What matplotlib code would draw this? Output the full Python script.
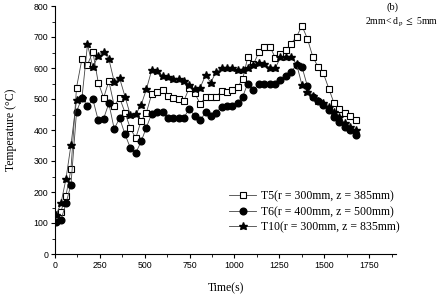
import matplotlib
matplotlib.use("Agg")
import matplotlib.pyplot as plt
from matplotlib.ticker import MultipleLocator

time_s = [6, 33, 61, 89, 120, 150, 181, 211, 241, 271, 300, 330, 360, 390, 420, 450,
          480, 509, 539, 569, 600, 630, 659, 689, 718, 748, 778, 809, 839, 868, 898,
          928, 958, 987, 1017, 1046, 1074, 1106, 1137, 1166, 1198, 1227, 1256, 1287,
          1316, 1346, 1376, 1406, 1436, 1465, 1494, 1526, 1555, 1584, 1614, 1644, 1677]

t5 = [118, 137, 188, 274, 537, 629, 611, 652, 553, 504, 558, 478, 504, 456, 405, 374,
      430, 456, 516, 523, 530, 511, 504, 499, 494, 536, 520, 484, 506, 505, 506,
      527, 524, 529, 538, 565, 635, 612, 653, 669, 669, 633, 645, 658,
      679, 701, 736, 695, 637, 604, 585, 533, 486, 469, 454, 446, 433]

t6 = [104, 109, 163, 224, 459, 504, 477, 499, 431, 437, 486, 403, 439, 386, 342, 326,
      363, 408, 453, 457, 457, 440, 440, 440, 440, 468, 446, 431, 457, 445, 456,
      475, 477, 477, 486, 508, 550, 529, 550, 550, 548, 548, 561, 574,
      588, 610, 604, 542, 505, 493, 481, 465, 443, 427, 411, 400, 384]

t10 = [126, 163, 242, 352, 497, 502, 676, 602, 640, 653, 629, 556, 567, 508, 448, 451,
       481, 531, 594, 590, 575, 570, 566, 564, 558, 545, 532, 537, 577, 553, 588,
       599, 601, 601, 594, 594, 601, 610, 615, 612, 601, 599, 634, 637,
       634, 613, 545, 524, 510, 495, 486, 475, 459, 443, 422, 411, 400]

labels = ["T5(r = 300mm, z = 385mm)", "T6(r = 400mm, z = 500mm)", "T10(r = 300mm, z = 835mm)"]
x_ticks = [0, 250, 500, 750, 1000, 1250, 1500, 1750]
y_ticks = [0, 100, 200, 300, 400, 500, 600, 700, 800]

serif = ["Liberation Serif", "DejaVu Serif"]
sans = ["Liberation Sans", "DejaVu Sans"]
plt.rcParams["mathtext.fontset"] = "stix"

fig = plt.figure(figsize=(4.44, 2.94), dpi=100)
ax = fig.add_axes([55/444, 1-254/294, (396-55)/444, (254-6)/294])

lc = "#444444"
ax.plot(time_s, t5, color=lc, lw=0.6, marker="s", ms=4.4, mfc="white", mec="black",
        mew=0.8, label=labels[0])
ax.plot(time_s, t6, color=lc, lw=0.6, marker="o", ms=4.8, mfc="black", mec="black",
        label=labels[1])
ax.plot(time_s, t10, color=lc, lw=0.6, marker="*", ms=6.2, mfc="black", mec="black",
        label=labels[2])

ax.set_xlim(0, 1900)
ax.set_ylim(0, 800)
ax.set_xticks(x_ticks)
ax.set_yticks(y_ticks)
ax.xaxis.set_minor_locator(MultipleLocator(125))
ax.yaxis.set_minor_locator(MultipleLocator(50))
ax.spines["top"].set_visible(False)
ax.spines["right"].set_visible(False)
for s in ("left", "bottom"):
    ax.spines[s].set_linewidth(0.8)
ax.tick_params(which="major", direction="out", length=3, width=0.8, labelsize=6.3, pad=2)
ax.tick_params(which="minor", direction="out", length=2, width=0.6)
for lab in ax.get_xticklabels() + ax.get_yticklabels():
    lab.set_family(sans)

ax.set_xlabel("Time(s)", family=serif, fontsize=8.5, labelpad=9)
ax.set_ylabel("Temperature (\u00b0C)", family=serif, fontsize=8.5, labelpad=12)

leg = fig.legend(loc="center left", bbox_to_anchor=(229/444, 1-212/294),
                 frameon=False, prop={"family": serif, "size": 8.5},
                 handlelength=2.3, handletextpad=0.4, labelspacing=0.3,
                 borderpad=0, borderaxespad=0)

fig.text(392/444, 1-7/294, "(b)", family=serif, fontsize=7.5, ha="center", va="center")
fig.text(402/444, 1-22/294, r"2mm< d$_{\mathrm{p}}$ $\leq$ 5mm", family=serif,
         fontsize=7, ha="center", va="center")

fig.savefig("out.png", dpi=100)
